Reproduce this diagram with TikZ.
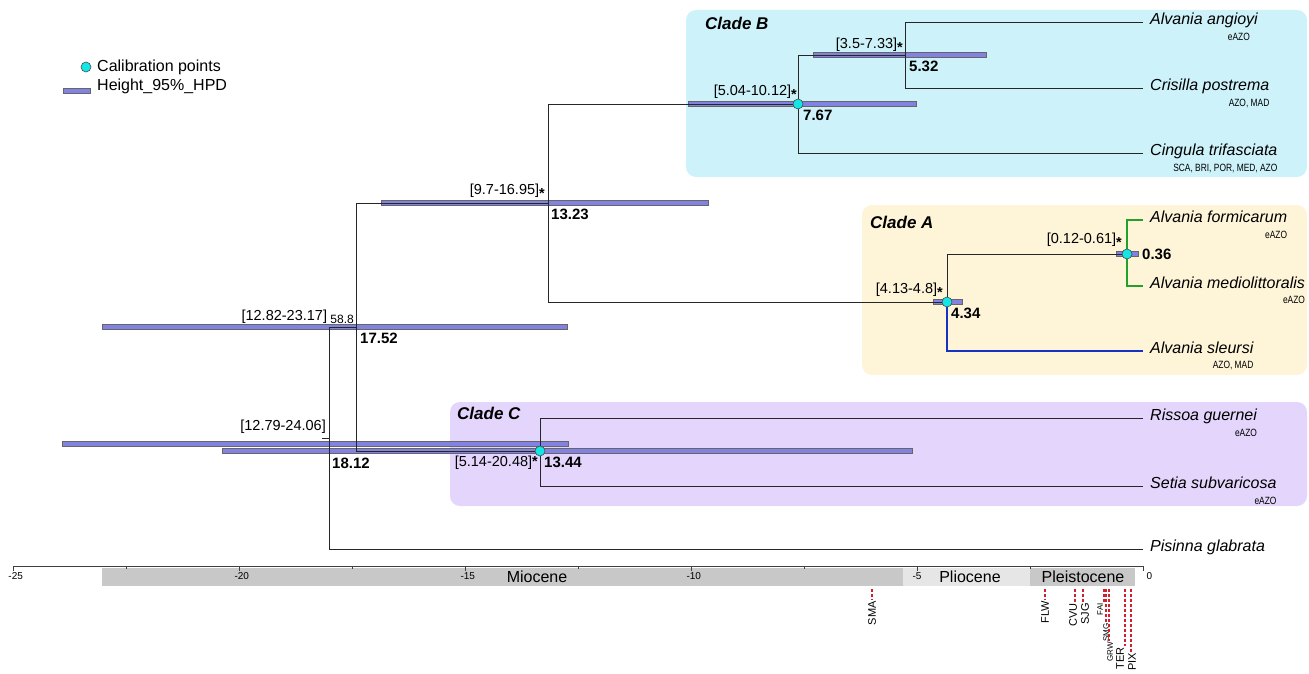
\documentclass[tikz,border=0pt]{standalone}
\usepackage{fontspec}
\setmainfont{Liberation Sans}
\newfontfamily\narrowsans[FakeStretch=0.8]{Liberation Sans}
\usetikzlibrary{positioning,calc}
\definecolor{cladeB}{HTML}{CDF2FA}
\definecolor{cladeA}{HTML}{FEF4D8}
\definecolor{cladeC}{HTML}{E3D5FB}
\definecolor{hpd}{HTML}{8282E2}
\definecolor{calib}{HTML}{12E6E6}
\definecolor{epochdark}{HTML}{C8C8C8}
\definecolor{epochlight}{HTML}{E6E6E6}
\definecolor{islandred}{HTML}{D21E2D}
\definecolor{branchgreen}{HTML}{22A02A}
\definecolor{branchblue}{HTML}{1632C2}
\newcommand\sig{\raisebox{-4pt}[0pt][0pt]{\bfseries *}}
\tikzset{
  branch/.style={draw=black!85, line width=0.9pt},
  greenbranch/.style={draw=branchgreen, line width=2pt},
  bluebranch/.style={draw=branchblue, line width=2pt},
  hpdbar/.style={draw=black!60, fill=hpd, line width=0.7pt},
  calpoint/.style={circle, draw=black!70, fill=calib, line width=0.6pt, inner sep=0pt, minimum size=10pt},
  clade/.style={rounded corners=10pt},
  cladename/.style={anchor=west, inner sep=0pt, font=\fontsize{17}{19}\selectfont\bfseries\itshape},
  taxon/.style={inner sep=0pt, font=\fontsize{16}{18}\selectfont\itshape},
  region/.style={anchor=north east, inner sep=0pt, font=\narrowsans\fontsize{10.5}{12}\selectfont},
  hpdtext/.style={inner sep=0pt, font=\fontsize{14.5}{16}\selectfont},
  agetext/.style={inner sep=0pt, font=\fontsize{15}{17}\selectfont\bfseries},
  legendtext/.style={anchor=west, inner sep=0pt, font=\fontsize{16}{18}\selectfont},
  ticktext/.style={anchor=north west, inner sep=0pt, font=\fontsize{10}{12}\selectfont},
  epochtext/.style={inner sep=0pt, font=\fontsize{16}{18}\selectfont},
  island/.style={draw=islandred, line width=2.2pt, dash pattern=on 3pt off 2pt},
  islandtext/.style={rotate=90, anchor=east, inner sep=1pt}
}
\begin{document}
\begin{tikzpicture}[x=1pt,y=-1pt]
  \useasboundingbox (0,0) rectangle (1309,674);
  % clades
  \fill[cladeB, clade] (686,10) rectangle (1307,177);
  \fill[cladeA, clade] (862,205) rectangle (1307,375);
  \fill[cladeC, clade] (450,402) rectangle (1307,506);
  \node[cladename] (cladeBname) at (705,23) {Clade B};
  \node[cladename] (cladeAname) at (870,222) {Clade A};
  \node[cladename] (cladeCname) at (457,413) {Clade C};

  % legend
  \node[calpoint] (legdot) at (86,67) {};
  \node[legendtext] (legcal) at (97,67) {Calibration points};
  \node[hpdbar, minimum width=27pt, minimum height=5pt, inner sep=0pt] (legbar) at (76.5,90.5) {};
  \node[legendtext] (leghpd) at (97,86) {Height\_95\%\_HPD};

  % internal nodes
  \coordinate (rootstub) at (322,438);
  \coordinate (root) at (329,438);
  \coordinate (n1752) at (356,327);
  \coordinate (n1323) at (548,203);
  \coordinate (n1344) at (540,451);
  \coordinate (n767) at (798,104);
  \coordinate (n532) at (905,55);
  \coordinate (n434) at (947,302);
  \coordinate (n036) at (1127,254);
  % tips
  \coordinate (angioyi) at (1143,22);
  \coordinate (postrema) at (1143,88);
  \coordinate (trifasciata) at (1143,153);
  \coordinate (formicarum) at (1143,220);
  \coordinate (mediolit) at (1143,286);
  \coordinate (sleursi) at (1143,351);
  \coordinate (guernei) at (1143,418);
  \coordinate (subvaricosa) at (1143,486);
  \coordinate (glabrata) at (1143,549);

  % 95% HPD bars
  \draw[hpdbar] (102,324.5) rectangle (567,329.5);
  \draw[hpdbar] (62,441.5) rectangle (568,446.5);
  \draw[hpdbar] (222,448.5) rectangle (912,453.5);
  \draw[hpdbar] (381,200.5) rectangle (708,205.5);
  \draw[hpdbar] (688,101.5) rectangle (916,106.5);
  \draw[hpdbar] (813,52.5) rectangle (986,57.5);
  \draw[hpdbar] (933,299.5) rectangle (962,304.5);
  \draw[hpdbar] (1116,251.5) rectangle (1138,256.5);

  % branches
  \draw[branch] (rootstub) -- (root);
  \draw[branch] (root) |- (n1752);
  \draw[branch] (root) |- (glabrata);
  \draw[branch] (n1752) |- (n1323);
  \draw[branch] (n1752) |- (n1344);
  \draw[branch] (n1323) |- (n767);
  \draw[branch] (n1323) |- (n434);
  \draw[branch] (n767) |- (n532);
  \draw[branch] (n767) |- (trifasciata);
  \draw[branch] (n532) |- (angioyi);
  \draw[branch] (n532) |- (postrema);
  \draw[branch] (n434) |- (n036);
  \draw[bluebranch] (n434) |- (sleursi);
  \draw[greenbranch] (n036) |- (formicarum);
  \draw[greenbranch] (n036) |- (mediolit);
  \draw[branch] (n1344) |- (guernei);
  \draw[branch] (n1344) |- (subvaricosa);

  % calibration points
  \node[calpoint] (cal767) at (n767) {};
  \node[calpoint] (cal434) at (n434) {};
  \node[calpoint] (cal036) at (n036) {};
  \node[calpoint] (cal1344) at (n1344) {};

  % ages and intervals
  \node[agetext, below right=19.5pt and 3pt of root] (age1812) {18.12};
  \node[hpdtext, above left=4.5pt and 3pt of root] (hpd1812) {[12.79-24.06]};
  \node[agetext, below right=6pt and 4pt of n1752] (age1752) {17.52};
  \node[hpdtext, font=\fontsize{12}{14}\selectfont, above left=3.5pt and 2pt of n1752] (post1752) {58.8};
  \node[hpdtext, anchor=south east] (hpd1752) at ([xshift=-3pt]post1752.south west) {[12.82-23.17]};
  \node[agetext, below right=6pt and 3pt of n1323] (age1323) {13.23};
  \node[hpdtext, above left=5.5pt and 3pt of n1323] (hpd1323) {[9.7-16.95]\sig};
  \node[agetext, below right=6pt and 4pt of n1344] (age1344) {13.44};
  \node[hpdtext, below left=4.5pt and 2pt of n1344] (hpd1344) {[5.14-20.48]{\bfseries *}};
  \node[agetext, below right=6pt and 5pt of n767] (age767) {7.67};
  \node[hpdtext, above left=5.5pt and 1pt of n767] (hpd767) {[5.04-10.12]\sig};
  \node[agetext, below right=5.5pt and 4pt of n532] (age532) {5.32};
  \node[hpdtext, above left=3.5pt and 2pt of n532] (hpd532) {[3.5-7.33]\sig};
  \node[agetext, below right=6pt and 4pt of n434] (age434) {4.34};
  \node[hpdtext, above left=5.5pt and 4pt of n434] (hpd434) {[4.13-4.8]\sig};
  \node[agetext, right=15pt of n036] (age036) {0.36};
  \node[hpdtext, above left=7.5pt and 5pt of n036] (hpd036) {[0.12-0.61]\sig};

  % taxa
  \node[taxon, right=7pt of angioyi, anchor=mid west] (tangioyi) {Alvania angioyi};
  \node[region] (rangioyi) at ([xshift=-8pt,yshift=-8.5pt]tangioyi.base east) {eAZO};
  \node[taxon, right=7pt of postrema, anchor=mid west] (tpostrema) {Crisilla postrema};
  \node[region] (rpostrema) at ([yshift=-8.5pt]tpostrema.base east) {AZO, MAD};
  \node[taxon, right=7pt of trifasciata, anchor=mid west] (ttrifasciata) {Cingula trifasciata};
  \node[region] (rtrifasciata) at ([yshift=-8pt]ttrifasciata.base east) {SCA, BRI, POR, MED, AZO};
  \node[taxon, right=7pt of formicarum, anchor=mid west] (tformicarum) {Alvania formicarum};
  \node[region] (rformicarum) at ([yshift=-8.5pt]tformicarum.base east) {eAZO};
  \node[taxon, right=7pt of mediolit, anchor=mid west] (tmediolit) {Alvania mediolittoralis};
  \node[region] (rmediolit) at ([yshift=-7pt]tmediolit.base east) {eAZO};
  \node[taxon, right=7pt of sleursi, anchor=mid west] (tsleursi) {Alvania sleursi};
  \node[region] (rsleursi) at ([yshift=-7.5pt]tsleursi.base east) {AZO, MAD};
  \node[taxon, right=7pt of guernei, anchor=mid west] (tguernei) {Rissoa guernei};
  \node[region] (rguernei) at ([yshift=-8pt]tguernei.base east) {eAZO};
  \node[taxon, right=7pt of subvaricosa, anchor=mid west] (tsubvaricosa) {Setia subvaricosa};
  \node[region] (rsubvaricosa) at ([yshift=-8pt]tsubvaricosa.base east) {eAZO};
  \node[taxon, right=7pt of glabrata, anchor=mid west] (tglabrata) {Pisinna glabrata};

  % time axis
  \fill[epochdark] (102,568) rectangle (903,586);
  \fill[epochlight] (903,568) rectangle (1030,586);
  \fill[epochdark] (1030,568) rectangle (1135,586);
  \node[epochtext] (miocene) at (537,577) {Miocene};
  \node[epochtext] (pliocene) at (970,577) {Pliocene};
  \node[epochtext] (pleistocene) at (1083,577) {Pleistocene};
  \draw[black!75, line width=0.9pt] (13.3,566) -- (1143.3,566);
  \foreach \t in {-25,-20,...,0}
    \draw[black!75, line width=0.9pt] ({1143.3+45.2*\t},566) -- ++(0,5);
  \foreach \t in {-22.5,-17.5,...,-2.5}
    \draw[black!75, line width=0.9pt] ({1143.3+45.2*\t},566) -- ++(0,3);
  \foreach \t in {-25,-20,...,-5}
    \node[ticktext] (tick\t) at ({1138.3+45.2*\t},572.5) {\t};
  \node[ticktext] (tick0) at (1146.5,572.5) {0};

  % island ages
  \foreach \isl/\xx/\lx/\yy/\sz in {SMA/872/872/600/11,FLW/1045/1045/600/11,CVU/1075/1073/602/11,
      SJG/1083/1085/602/11,FAI/1104/1100/602/8,SMG/1106/1106/622/8,GRW/1109/1110/641/8,
      TER/1125/1120/646/11,PIX/1131/1132/652/11}{
    \coordinate (top\isl) at (\xx,589);
    \coordinate (end\isl) at (\xx,\yy);
    \draw[island] (top\isl) -- (end\isl);
    \node[islandtext, font=\fontsize{\sz}{\sz}\selectfont] (lab\isl) at (\lx,\yy) {\isl};
  }
\end{tikzpicture}
\end{document}
